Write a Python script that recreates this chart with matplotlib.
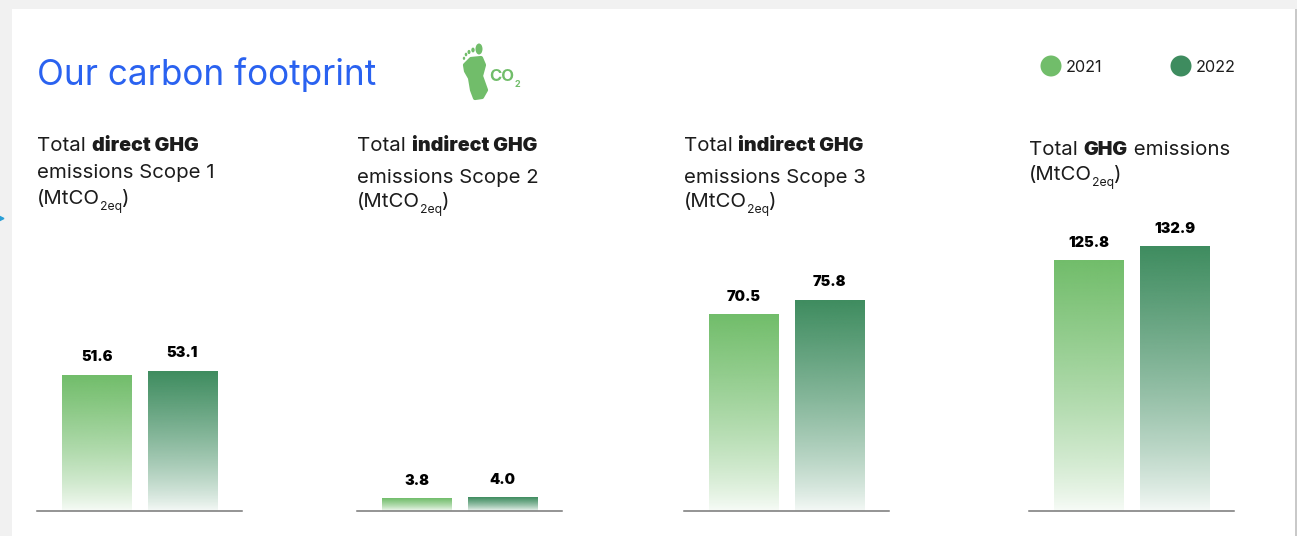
import matplotlib
matplotlib.use("Agg")
import matplotlib.pyplot as plt
import matplotlib.colors as mc
from matplotlib.patches import Ellipse, Polygon, Rectangle
import numpy as np

years = ["2021", "2022"]
values_scope1 = [51.6, 53.1]
values_scope2 = [3.8, 4.0]
values_scope3 = [70.5, 75.8]
values_total = [125.8, 132.9]
panels = [values_scope1, values_scope2, values_scope3, values_total]

# every panel in the original has its own scale
ymax = [117.9, 94.0, 111.5, 155.8]
panel_left = [37, 357, 684, 1029]
colors = ["#71bd6a", "#3e8c5f"]

W, H = 1297, 536
FONT = "Inter"
plt.rcParams["font.family"] = FONT

fig = plt.figure(figsize=(W / 100, H / 100), dpi=100, facecolor="#f1f1f1")

# overlay in pixel coordinates for the card and the text
bg = fig.add_axes([0, 0, 1, 1], zorder=0)
bg.set_xlim(0, W)
bg.set_ylim(H, 0)
bg.axis("off")
bg.add_patch(Rectangle((12, 9), 1283, 527, fc="white", ec="none"))
bg.add_patch(Rectangle((1295, 9), 2, 527, fc="#c9c9c9", ec="none"))
bg.plot([1], [218], marker=">", ms=3.5, color="#2a9fd6", ls="none")


def runs(x, y, parts):
    # writes pieces of text one after the other on one baseline
    r = fig.canvas.get_renderer()
    for s, size, weight, dy in parts:
        t = bg.text(x, y + dy, s, fontsize=size, fontweight=weight, color="#1c1c1c",
                    va="baseline", ha="left")
        x += t.get_window_extent(r).width


bg.text(37, 85, "Our carbon footprint", fontsize=25.3, color="#2a62f0", fontweight="normal",
        va="baseline", ha="left")

unit = 14.7
bold = 14.1
sub = 8.8
co2 = [("(MtCO", unit, "normal", 0), ("2eq", sub, "normal", 6), (")", unit, "normal", 0)]
runs(37, 151, [("Total ", unit, "normal", 0), ("direct GHG", bold, "black", 0)])
runs(37, 178, [("emissions Scope 1", unit, "normal", 0)])
runs(37, 204, co2)
runs(357, 151, [("Total ", unit, "normal", 0), ("indirect GHG", bold, "black", 0)])
runs(357, 183, [("emissions Scope 2", unit, "normal", 0)])
runs(357, 207, co2)
runs(684, 151, [("Total ", unit, "normal", 0), ("indirect GHG", bold, "black", 0)])
runs(684, 183, [("emissions Scope 3", unit, "normal", 0)])
runs(684, 207, co2)
runs(1029, 155, [("Total ", unit, "normal", 0), ("GHG", bold, "black", 0), (" emissions", unit, "normal", 0)])
runs(1029, 180, co2)

# legend
for x, year, c in zip([1051, 1181], years, colors):
    bg.add_patch(Ellipse((x, 66), 21, 21, fc=c, ec="none"))
    bg.text(x + 15, 72, year, fontsize=11.7, color="#1c1c1c", fontweight="normal", va="baseline")

# footprint icon
foot = [(465, 65), (471, 59), (481, 58), (484, 65), (481, 76), (486, 90), (482, 97),
        (475, 98), (472, 90), (470, 78), (466, 71)]
bg.add_patch(Polygon(foot, closed=True, fc=colors[0], ec=colors[0], lw=3, joinstyle="round"))
for cx, cy, w, h in [(479, 49, 7, 11), (473, 50, 3.4, 4.8), (469, 52, 3, 4.2),
                     (466, 54.5, 2.6, 3.6), (464, 58.3, 2.4, 3.2)]:
    bg.add_patch(Ellipse((cx, cy), w, h, fc=colors[0], ec="none"))
bg.text(489, 81, "CO", fontsize=12, fontweight="bold", color=colors[0], va="baseline")
bg.text(515, 87, "2", fontsize=6.5, fontweight="bold", color=colors[0], va="baseline")

base_y = 510.5
ax_h = 310
for left, vals, top in zip(panel_left, panels, ymax):
    ax = fig.add_axes([left / W, 1 - base_y / H, 205 / W, ax_h / H], zorder=2)
    ax.patch.set_alpha(0)
    rects = ax.bar([0, 1], vals, width=0.81, color="none", edgecolor="none")
    for rect, c in zip(rects, colors):
        grad = np.zeros((256, 1, 4))
        grad[:, 0, :3] = mc.to_rgb(c)
        grad[:, 0, 3] = np.linspace(1, 0.02, 256) ** 0.75
        im = ax.imshow(grad, aspect="auto", interpolation="bilinear",
                       extent=[rect.get_x(), rect.get_x() + rect.get_width(), 0, rect.get_height()])
        im.set_clip_path(rect)
    ax.bar_label(rects, fmt="%.1f", padding=7.5, fontsize=10.5, fontweight="black", color="black")
    ax.set_xlim(-0.70, 1.696)
    ax.set_ylim(0, top)
    ax.set_xticks([])
    ax.set_yticks([])
    for s in ["top", "left", "right"]:
        ax.spines[s].set_visible(False)
    ax.spines["bottom"].set_color("#777777")
    ax.spines["bottom"].set_linewidth(1.1)

fig.savefig("out.png", dpi=100, facecolor=fig.get_facecolor())
